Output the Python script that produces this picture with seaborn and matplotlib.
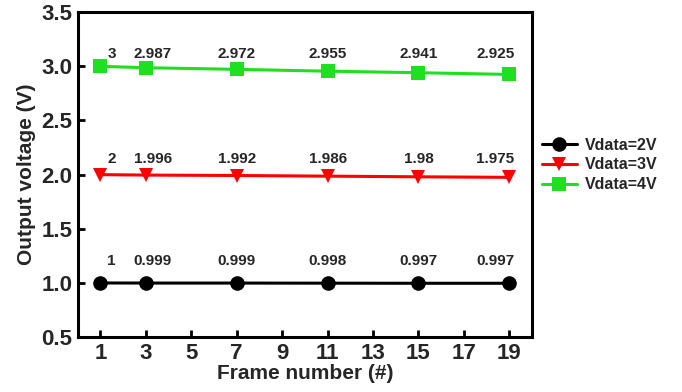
import matplotlib
matplotlib.use("Agg")
import matplotlib.pyplot as plt
import seaborn as sns
import pandas as pd

frames = [1, 3, 7, 11, 15, 19]
v2 = [1.0, 0.999, 0.999, 0.998, 0.997, 0.997]
v3 = [2.0, 1.996, 1.992, 1.986, 1.98, 1.975]
v4 = [3.0, 2.987, 2.972, 2.955, 2.941, 2.925]
labels2 = ["1", "0.999", "0.999", "0.998", "0.997", "0.997"]
labels3 = ["2", "1.996", "1.992", "1.986", "1.98", "1.975"]
labels4 = ["3", "2.987", "2.972", "2.955", "2.941", "2.925"]
series_names = ["Vdata=2V", "Vdata=3V", "Vdata=4V"]

sns.set_theme(style="white")
plt.rcParams["font.family"] = ["Liberation Sans", "DejaVu Sans"]
plt.rcParams["font.weight"] = "bold"

rows = []
for name, vals in zip(series_names, [v2, v3, v4]):
    for f, v in zip(frames, vals):
        rows.append({"frame": f, "voltage": v, "series": name})
df = pd.DataFrame(rows)

palette = {"Vdata=2V": "#000000", "Vdata=3V": "#FF0000", "Vdata=4V": "#1EE01E"}
markers = {"Vdata=2V": "o", "Vdata=3V": "v", "Vdata=4V": "s"}

fig = plt.figure(figsize=(6.82, 3.92), dpi=100)
ax = fig.add_axes([0.114, 0.140, 0.666, 0.829])

sns.lineplot(data=df, x="frame", y="voltage", hue="series", style="series",
             palette=palette, markers=markers, dashes=False, linewidth=2.2,
             markersize=10.5, markeredgewidth=0, ax=ax)

# value labels sit on one row per series, above its first point
label_dx = [8, 5, 0, 0, 0, -10]
row_dy = [16, 11, 9]
for vals, labs, dy in zip([v2, v3, v4], [labels2, labels3, labels4], row_dy):
    for f, t, dx in zip(frames, labs, label_dx):
        ax.annotate(t, (f, vals[0]), xytext=(dx, dy), textcoords="offset points",
                    ha="center", va="center", fontsize=11, fontweight="bold")

ax.set_xlim(0, 20)
ax.set_ylim(0.5, 3.5)
ax.set_xticks(range(1, 20, 2))
ax.set_yticks([0.5, 1.0, 1.5, 2.0, 2.5, 3.0, 3.5])
ax.set_yticklabels([f"{y:.1f}" for y in [0.5, 1.0, 1.5, 2.0, 2.5, 3.0, 3.5]])
ax.tick_params(direction="in", length=5, width=2, labelsize=16, pad=4,
               bottom=True, left=True, color="black")
for lab in ax.get_xticklabels() + ax.get_yticklabels():
    lab.set_fontweight("bold")
for s in ax.spines.values():
    s.set_linewidth(2.2)
    s.set_color("black")

ax.set_xlabel("Frame number (#)", fontsize=15, fontweight="bold", labelpad=0)
ax.set_ylabel("Output voltage (V)", fontsize=15, fontweight="bold", labelpad=4)

leg = ax.legend(loc="center left", bbox_to_anchor=(1.0, 0.53), frameon=False,
                prop={"weight": "bold", "size": 11.5}, handlelength=2.2,
                handletextpad=0.5, labelspacing=0.3, borderaxespad=0.2)

fig.savefig("out.png", dpi=100)
